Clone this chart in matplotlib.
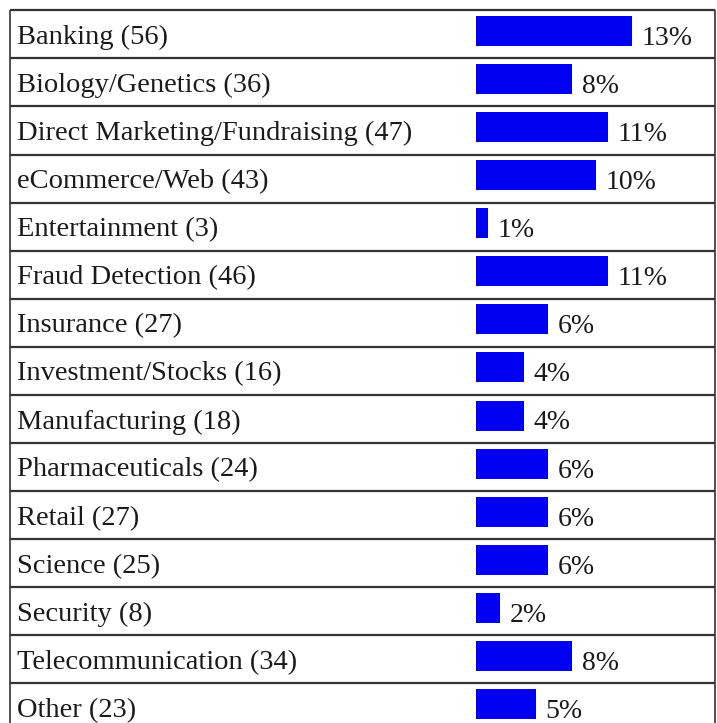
import matplotlib.pyplot as plt

categories = ['Banking', 'Biology/Genetics', 'Direct Marketing/Fundraising',
              'eCommerce/Web', 'Entertainment', 'Fraud Detection', 'Insurance',
              'Investment/Stocks', 'Manufacturing', 'Pharmaceuticals', 'Retail',
              'Science', 'Security', 'Telecommunication', 'Other']
counts = [56, 36, 47, 43, 3, 46, 27, 16, 18, 24, 27, 25, 8, 34, 23]
percents = [13, 8, 11, 10, 1, 11, 6, 4, 4, 6, 6, 6, 2, 8, 5]

plt.rcParams['font.family'] = 'serif'
plt.rcParams['font.serif'] = ['Liberation Serif', 'Times New Roman', 'DejaVu Serif']

fig = plt.figure(figsize=(7.17, 7.23), dpi=100)
ax = fig.add_axes([0, 0, 1, 1])

# x in percent units (12 px per percent), y in rows (48 px per row)
px = 12.0
row = 48.07
x0 = 475.7
y0 = 10.3
ax.set_xlim(-x0 / px, (717 - x0) / px)
ax.set_ylim((723 - y0) / row, -y0 / row)
ax.axis('off')

n = len(categories)
ys = [i + 0.43 for i in range(n)]
ax.barh(ys, percents, height=30 / row, left=0, color='#0000f0', edgecolor='none')

line_col = '#333333'
left = (10 - x0) / px
right = (715.5 - x0) / px
ax.hlines(range(n + 1), left, right, color=line_col, lw=1.6)
ax.vlines([left, right], 0, n, color=line_col, lw=1.2)

for i, (c, k, p) in enumerate(zip(categories, counts, percents)):
    ax.text((17 - x0) / px, i + 0.70, f'{c} ({k})', fontsize=20.5,
            color='#1a1a1a', va='baseline', ha='left')
    ax.text(p + 0.83, i + 0.72, f'{p}%', fontsize=20,
            color='#1a1a1a', va='baseline', ha='left')

fig.savefig('out.png', dpi=100)
